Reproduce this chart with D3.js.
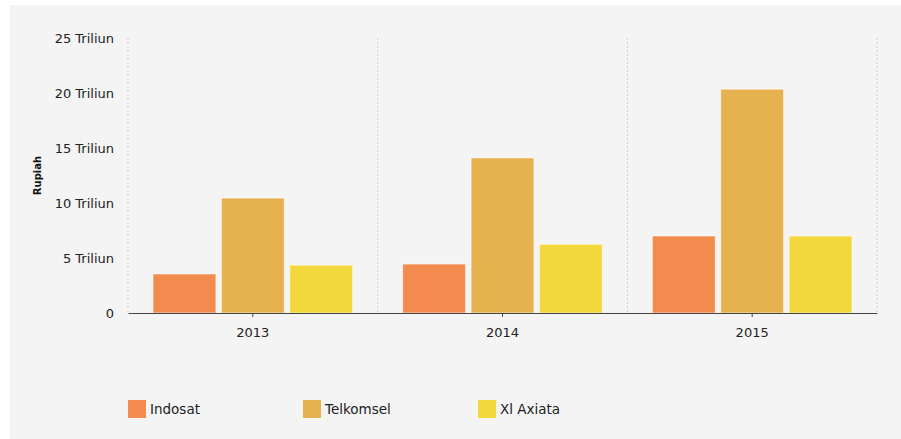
<!DOCTYPE html>
<html>
<head>
<meta charset="utf-8">
<script src="https://cdn.jsdelivr.net/npm/d3@7"></script>
<style>
  body { margin: 0; background: #fff; }
  text { font-family: "DejaVu Sans", Verdana, sans-serif; }
</style>
</head>
<body>
<div id="chart"></div>
<script>
  // data (Triliun Rupiah)
  const years = ["2013", "2014", "2015"];
  const operators = ["Indosat", "Telkomsel", "Xl Axiata"];
  const indosat = [3.55, 4.45, 7.0];
  const telkomsel = [10.45, 14.1, 20.35];
  const xlAxiata = [4.35, 6.25, 7.0];
  const yTicks = [0, 5, 10, 15, 20, 25];
  const colors = ["#f28b4d", "#e6b14f", "#f2d83c"];

  const series = [indosat, telkomsel, xlAxiata];

  const W = 901, H = 439;
  const margin = {top: 38, right: 24, bottom: 126, left: 128},
      width = W - margin.left - margin.right,
      height = H - margin.top - margin.bottom;

  const svg = d3.select("#chart")
    .append("svg")
      .attr("width", W)
      .attr("height", H);

  // panel background
  svg.append("rect")
    .attr("x", 10).attr("y", 5)
    .attr("width", W - 10).attr("height", H - 5)
    .attr("fill", "#f4f4f4");

  const g = svg.append("g")
    .attr("transform", `translate(${margin.left}, ${margin.top})`);

  const x = d3.scaleBand()
    .domain(years)
    .range([0, width]);

  const xInner = d3.scaleBand()
    .domain(operators)
    .range([25, x.bandwidth() - 25])
    .paddingInner(0.08);

  const y = d3.scaleLinear()
    .domain([0, 25])
    .range([height, 0]);

  // dotted vertical separators
  const seps = years.map(d => x(d)).concat([width]);
  g.selectAll(".sep")
    .data(seps)
    .join("line")
      .attr("class", "sep")
      .attr("x1", d => d).attr("x2", d => d)
      .attr("y1", 0).attr("y2", height)
      .attr("stroke", "#cfcfcf")
      .attr("stroke-dasharray", "2,2");

  // y axis labels
  const yAxis = g.append("g")
    .call(d3.axisLeft(y)
      .tickValues(yTicks)
      .tickSize(0)
      .tickPadding(14)
      .tickFormat(d => d === 0 ? "0" : d + " Triliun"));
  yAxis.select(".domain").remove();
  yAxis.selectAll("text")
    .attr("font-size", 13)
    .attr("fill", "#222");

  g.append("text")
    .attr("transform", `translate(-87, ${height / 2}) rotate(-90)`)
    .attr("text-anchor", "middle")
    .attr("font-size", 10)
    .attr("font-weight", "bold")
    .attr("fill", "#111")
    .text("Rupiah");

  // bars
  const groups = g.selectAll(".year")
    .data(years)
    .join("g")
      .attr("class", "year")
      .attr("transform", d => `translate(${x(d)}, 0)`);

  groups.selectAll("rect")
    .data((d, i) => operators.map((op, j) => ({op: op, value: series[j][i], c: colors[j]})))
    .join("rect")
      .attr("x", d => xInner(d.op))
      .attr("y", d => y(d.value))
      .attr("width", xInner.bandwidth())
      .attr("height", d => height - y(d.value))
      .attr("fill", d => d.c)
      .attr("stroke", "#fff")
      .attr("stroke-opacity", 0.6)
      .attr("stroke-width", 1);

  // x axis
  const xAxis = g.append("g")
    .attr("transform", `translate(0, ${height})`)
    .call(d3.axisBottom(x).tickSize(4).tickSizeOuter(0).tickPadding(11));
  xAxis.select(".domain").attr("stroke", "#444");
  xAxis.selectAll(".tick line").attr("stroke", "#444");
  xAxis.selectAll("text")
    .attr("font-size", 13)
    .attr("fill", "#222");

  // legend
  const legend = svg.append("g")
    .attr("transform", `translate(${margin.left}, 400)`);
  const items = legend.selectAll(".item")
    .data(operators)
    .join("g")
      .attr("class", "item")
      .attr("transform", (d, i) => `translate(${i * 175}, 0)`);
  items.append("rect")
    .attr("width", 18).attr("height", 18)
    .attr("fill", (d, i) => colors[i]);
  items.append("text")
    .attr("x", 22).attr("y", 14)
    .attr("font-size", 13.5)
    .attr("fill", "#222")
    .text(d => d);
</script>
</body>
</html>
